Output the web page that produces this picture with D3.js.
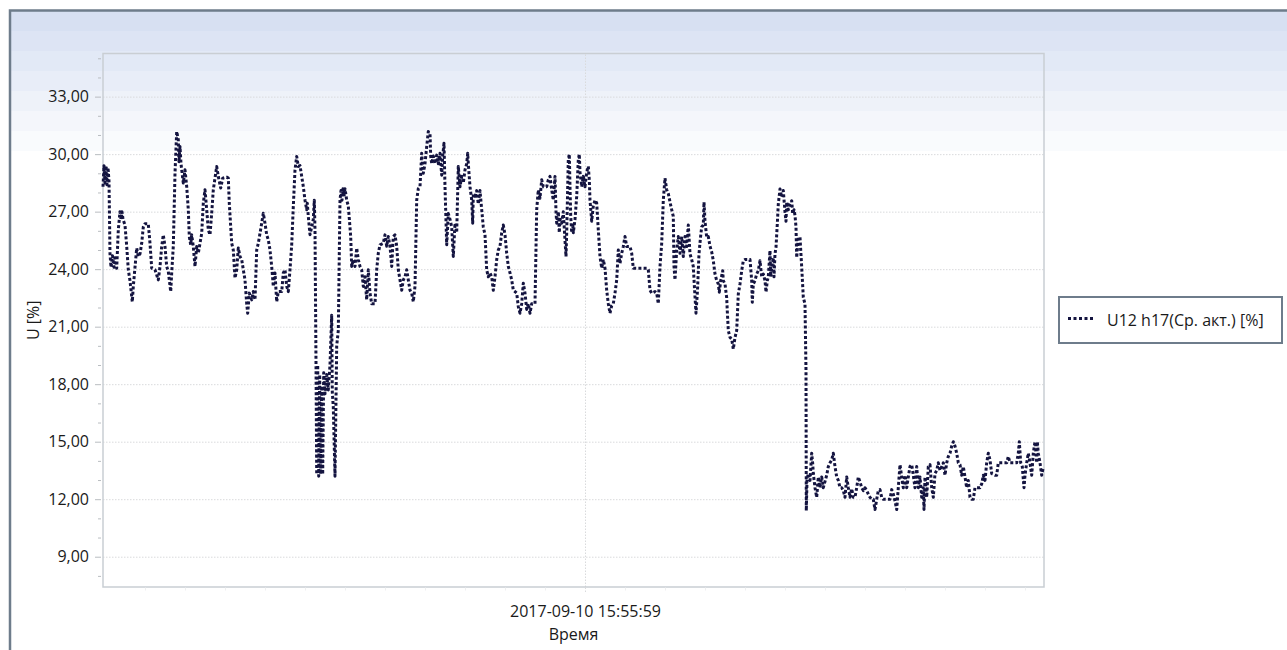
<!DOCTYPE html>
<html>
<head>
<meta charset="utf-8">
<script src="https://cdn.jsdelivr.net/npm/d3@7"></script>
<style>
  html, body { margin: 0; padding: 0; background: #ffffff; }
  svg { display: block; font-family: "Open Sans", "Noto Sans", sans-serif; }
</style>
</head>
<body>
<svg id="chart" width="1287" height="650"></svg>
<script>
// ---- chart data ----
const seriesName = "U12 h17(Ср. акт.) [%]";
const yTitle = "U [%]";
const xTitle = "Время";
const startTime = "2017-09-10 07:53:59";   // first sample
const spanMinutes = 941;                    // length of the time window
const labelTimes = ["2017-09-10 15:55:59"]; // labelled time tick
const yMajorTicks = [9, 12, 15, 18, 21, 24, 27, 30, 33];
const yMinorTicks = [8, 10, 11, 13, 14, 16, 17, 19, 20, 22, 23, 25, 26, 28, 29, 31, 32, 34, 35];
const yDomain = [7.42, 35.25];

// [minutes since start, U12 h17 %]
const readings = [
  [0,28.3],[1,29.4],[2,28.5],[3,29.4],[4,28.4],[5,29.3],[6,28.6],[7,24.8],[8,24.1],[9.5,24.7],
  [11,24.1],[12,24.6],[13.7,24.05],[15.3,26.05],[17,27.0],[18,26.6],[19,27.0],[20,26.6],[22,26.3],[23.7,25.2],
  [25.3,23.97],[27,23.4],[29.3,22.3],[30.3,23.1],[32,24.1],[33.7,25.1],[35.3,24.66],[37,24.8],[38.7,25.35],[40.3,26.2],
  [42,26.37],[45.3,26.37],[47,25.35],[48.7,24.05],[52,23.97],[55.3,23.44],[57,24.14],[58.7,25.18],[60.3,25.79],[62,25.18],
  [63.7,24.14],[65.3,23.88],[67.7,22.83],[68.7,23.8],[70.3,25.2],[72,29.0],[73.7,31.18],[75.3,30.75],[76,29.6],[77,30.4],
  [78,29.5],[80.3,28.49],[82,29.18],[83.7,28.31],[85.3,27.1],[86.3,25.7],[87.7,25.27],[88.7,25.79],[90.3,25.18],[92,24.14],
  [93.7,25.18],[95.3,24.83],[97,25.35],[98.7,25.87],[100.3,27.44],[102,28.14],[103.7,27.1],[105.3,26.05],[107,25.79],[108.7,26.92],
  [110.3,28.14],[113.7,29.36],[115.3,28.84],[117.7,28.23],[119.7,28.75],[123.7,28.8],[125.3,28.75],[126.3,27.44],[128.7,25.35],[130.3,25.0],
  [132,23.53],[133.7,23.97],[135.3,25.1],[137,24.66],[138.7,24.5],[140.3,23.97],[142,23.44],[143.7,22.2],[144.7,21.7],[146.3,22.75],
  [148.7,22.4],[150.3,22.83],[152,22.4],[153.7,25.0],[155.3,25.35],[157,25.87],[158.7,26.4],[160.3,26.92],[162,26.4],[163.7,25.79],
  [165.3,25.53],[167,25.0],[168.7,24.14],[170.3,23.1],[172,23.8],[173.7,22.3],[175.3,22.83],[178.7,22.83],[180.3,23.8],[182,23.97],
  [183.7,23.1],[185.3,22.83],[187,23.97],[188.7,25.27],[190.3,27.27],[192,29.18],[193.7,29.88],[195.3,29.36],[197,29.4],[198.7,28.84],
  [200.3,28.31],[202,27.6],[203.7,27.1],[204.3,27.44],[205.3,26.75],[207,25.8],[208.7,26.2],[210.3,26.6],[211.3,27.6],[212,26.05],
  [213,19.1],[213.7,13.3],[214.7,19.0],[215.7,13.2],[216.7,18.5],[217.7,13.3],[218.7,17.9],[219.7,13.3],[220.7,18.6],[222,17.5],
  [223.7,18.5],[225.3,17.7],[227,19.0],[228.7,21.6],[229.3,17.6],[230.3,16.8],[232,13.2],[233.7,20.0],[235.3,20.8],[237,27.6],
  [238,28.1],[239,27.6],[240,28.2],[241,27.8],[242,28.2],[243.7,27.6],[245.3,27.3],[247.7,25.7],[248.7,24.14],[250.3,24.5],
  [252,24.14],[253.7,25.1],[255.3,24.5],[257,24.14],[258.7,23.97],[260.3,23.1],[262,23.6],[263.7,22.4],[265.3,23.97],[267,22.75],
  [268.7,22.2],[272,22.2],[273.7,23.97],[275.3,24.83],[277,25.27],[280.3,25.35],[282,25.79],[283.7,25.2],[285.3,25.7],[287,25.2],
  [288.7,24.14],[290.3,25.7],[292,25.79],[293.7,25.2],[295.3,23.97],[297,23.44],[298.7,22.9],[300.3,23.44],[302,23.6],[303.7,23.97],
  [305.3,23.44],[307,22.9],[308.7,22.75],[310.3,22.3],[312,23.1],[313.7,27.6],[315.3,28.2],[317,28.3],[318.7,30.05],[320.3,29.0],
  [322,29.5],[323.7,30.4],[325.3,31.18],[327,31.1],[327.7,29.9],[328.7,29.5],[330.3,29.9],[332,29.5],[333.7,29.95],[335.3,29.5],
  [337,30.05],[338.7,28.9],[339.7,29.9],[341,30.57],[342,28.3],[343.7,25.27],[345.3,26.9],[347,26.6],[348.7,26.2],[350.3,24.66],
  [352,26.4],[353.7,25.9],[355.3,29.36],[357,28.3],[358.7,28.84],[360.3,28.5],[362,29.18],[363.7,29.5],[364.7,30.05],[365.3,29.5],
  [367,28.3],[368.7,27.6],[369.7,26.4],[370.3,27.9],[372,27.8],[373.7,28.1],[375.3,27.4],[377,28.1],[378.7,27.1],[380.3,26.2],
  [382,25.8],[383.7,23.97],[385.3,23.6],[387,23.8],[388.7,23.6],[390.3,22.9],[392,23.6],[393.7,24.5],[395.3,25.0],[397,25.18],
  [398.7,25.9],[400.3,26.3],[402,25.8],[403.7,24.83],[405.3,24.14],[407,23.8],[408.7,23.44],[410.3,22.9],[412,22.83],[413.7,22.75],
  [415.3,22.05],[417,21.7],[418.7,22.2],[420.3,23.27],[422,22.75],[423.7,21.9],[425.3,22.2],[427,21.7],[428.7,22.2],[432,22.2],
  [433.7,27.1],[435.3,28.14],[437,27.7],[438.7,28.66],[440.3,28.3],[443.7,28.3],[445.3,28.66],[447,28.84],[448.7,28.14],[450.3,27.6],
  [452,28.84],[453,27.0],[453.7,26.4],[455.3,27.0],[456.3,25.9],[457,26.6],[458.7,26.4],[460.3,27.0],[462,25.5],[463,24.66],
  [463.7,25.9],[465.3,29.7],[466.3,30.0],[467,28.3],[467.7,26.8],[468.7,25.9],[469.7,26.4],[470.3,25.9],[472,26.6],[473.7,27.8],
  [475.3,29.7],[476.3,30.0],[477,29.05],[478.7,28.3],[480.3,28.84],[482,28.3],[483.7,29.05],[485.3,29.36],[486.3,28.66],[487,27.6],
  [488.7,26.5],[490.3,27.3],[492,27.6],[493.7,27.45],[495.3,26.05],[497,24.66],[498.7,24.05],[500.3,24.5],[502,24.05],[503.7,22.9],
  [505.3,22.2],[507,21.7],[508.7,22.1],[510.3,22.2],[512,22.75],[513.7,23.44],[515.3,25.0],[517,24.3],[518.7,24.83],[520.3,25.18],
  [522,25.7],[523.7,25.18],[527,25.18],[528.7,24.83],[530.3,24.05],[543.7,24.05],[545.3,23.97],[547,22.9],[548.7,22.75],[552,22.83],
  [553.7,22.75],[555.3,22.2],[557,24.14],[558.7,25.35],[560.3,27.6],[562,28.75],[563.7,28.14],[565.3,27.95],[567,27.5],[568.7,27.1],
  [570.3,26.75],[571,24.14],[572,23.44],[573.7,25.0],[575.3,25.7],[577,24.83],[578.7,25.7],[580.3,24.66],[582,25.7],[583.7,25.18],
  [585.3,26.3],[587,24.8],[588.7,24.5],[590.3,24.14],[591.5,23.0],[593,21.7],[594.5,22.9],[596,24.8],[597.5,25.66],[598.7,26.2],
  [600.3,26.3],[601,27.5],[602,26.5],[603.7,25.66],[605.3,25.7],[607,25.2],[608.7,24.9],[610.3,24.44],[612,23.75],[613.7,23.4],
  [615.3,23.23],[616.3,22.8],[617.7,23.4],[619.7,23.92],[620.3,23.4],[622,23.23],[623.7,22.5],[624.3,21.8],[625.3,20.8],[627,20.44],
  [628.7,20.35],[630.3,19.83],[632,20.44],[633.7,20.8],[635.3,22.7],[637,23.23],[638.7,23.92],[640.3,24.44],[642,24.5],[647,24.5],
  [648.7,23.4],[649.3,22.27],[650.3,23.23],[652,23.4],[653.7,23.75],[655.3,23.92],[657,24.44],[658.7,23.6],[660.3,23.75],[662,23.4],
  [663,22.8],[664.3,23.4],[665.3,23.6],[667,24.97],[667.7,23.6],[668.7,24.1],[670.3,24.6],[671,23.6],[672,24.8],[673,25.14],
  [674.3,26.36],[675.3,27.4],[677,28.18],[678.7,27.75],[680.3,28.1],[682,26.97],[683,26.5],[683.7,27.5],[685.3,27.1],[687,27.4],
  [688.7,27.57],[689.7,26.9],[691,27.1],[692,26.8],[693,26.2],[693.7,24.6],[695.3,25.66],[697,25.66],[698.7,24.1],[700.3,22.53],
  [702,22.18],[703,18.7],[703.3,11.4],[704,12.98],[705.3,13.34],[707,12.98],[708.7,14.4],[709.7,13.86],[710.3,13.34],[712,12.6],
  [713.7,12.1],[715.3,13.16],[717,12.6],[718.7,13.16],[720.3,12.6],[723.7,13.25],[725.3,13.7],[727,13.9],[728.7,14.05],[730.3,14.4],
  [732,13.7],[733.7,13.16],[735.3,12.98],[737,12.6],[738.7,12.6],[740.3,12.45],[742,12.1],[743.7,13.16],[745.3,12.6],[747,12.1],
  [748.7,12.55],[750.3,12.1],[752,12.1],[753.7,12.6],[755.3,13.16],[757,12.9],[758.7,12.6],[760.3,12.45],[762,12.6],[763.7,12.45],
  [765.3,12.27],[767,12.1],[768.7,12.0],[770.3,12.0],[772,11.46],[773.7,12.0],[775.3,12.45],[777,12.5],[778.7,12.1],[780.3,12.0],
  [787,12.0],[788.7,12.5],[790.3,12.27],[792,11.9],[793.7,11.46],[795.3,12.6],[797,13.8],[798.7,13.16],[800.3,12.6],[802,13.25],
  [803.7,12.6],[805.3,13.16],[807,13.7],[808.7,13.8],[810.3,13.25],[812,12.6],[813.7,13.7],[815.3,12.6],[817,13.16],[818.7,12.1],
  [820.3,12.6],[821,11.46],[822,13.16],[823.7,12.1],[825.3,13.7],[827,13.8],[828.7,12.6],[830.3,12.1],[832,13.34],[833.7,13.5],
  [835.3,13.9],[837,13.5],[838.7,13.7],[840.3,13.9],[842,13.25],[843.7,13.9],[845.3,14.23],[847,14.4],[848.7,14.77],[850.3,15.0],
  [852,14.77],[853.7,14.4],[855.3,13.9],[857,13.8],[858.7,13.25],[860.3,13.7],[862,13.16],[863.7,12.6],[865.3,12.98],[867,12.1],
  [868.7,12.0],[870.3,12.0],[872,12.6],[877,12.6],[878.7,12.8],[880.3,13.25],[882,12.98],[883.7,13.9],[885.3,14.4],[887,14.05],
  [888.7,13.34],[892,13.25],[893.7,13.25],[895.3,13.9],[903.7,13.9],[905.3,14.23],[907,13.9],[913.7,13.9],[915.3,14.4],[916.3,15.0],
  [917.7,13.9],[919.3,13.7],[921,12.6],[922,13.25],[923.7,13.9],[925.3,14.4],[927,13.9],[928.7,13.25],[930.3,14.4],[932,15.0],
  [933.7,13.9],[934.3,15.0],[935.3,14.4],[937,13.9],[938.7,13.25],[940,13.6]
];

// ---- layout ----
const W = 1287, H = 650;
const plot = { left: 103, right: 1044, top: 53.5, bottom: 587 };
const parseTime = d3.timeParse("%Y-%m-%d %H:%M:%S");
const formatTime = d3.timeFormat("%Y-%m-%d %H:%M:%S");
const commaLocale = d3.formatLocale({ decimal: ",", thousands: " ", grouping: [3], currency: ["", ""] });
const fmtValue = commaLocale.format(".2f");

const t0 = parseTime(startTime);
const t1 = d3.timeMinute.offset(t0, spanMinutes);
const points = readings.map(([m, v]) => ({ t: new Date(t0.getTime() + m * 60000), v }));
const labelDates = labelTimes.map(parseTime);

const x = d3.scaleTime().domain([t0, t1]).range([plot.left, plot.right]);
const y = d3.scaleLinear().domain(yDomain).range([plot.bottom, plot.top]);

const svg = d3.select("#chart");

// banded light-blue wash behind the whole chart
const bandTop = 11, bandH = 20, bandCount = 8;
const bandColor = d3.interpolateRgb("#d7e0f2", "#ffffff");
svg.append("g").selectAll("rect")
  .data(d3.range(bandCount))
  .join("rect")
  .attr("x", 10).attr("y", i => bandTop + i * bandH)
  .attr("width", W - 10).attr("height", bandH + 0.5)
  .attr("fill", i => bandColor(i / (bandCount - 1)));

// outer frame (top and left edges)
svg.append("path")
  .attr("d", `M10,${H} L10,10.5 L${W},10.5`)
  .attr("fill", "none").attr("stroke", "#6e7c8b").attr("stroke-width", 2.5);

// horizontal grid
svg.append("g")
  .attr("transform", `translate(${plot.left},0)`)
  .call(d3.axisLeft(y).tickValues(yMajorTicks).tickSize(-(plot.right - plot.left)).tickFormat(""))
  .call(g => g.select(".domain").remove())
  .call(g => g.selectAll("line").attr("stroke", "#d9dadc").attr("stroke-dasharray", "1.5,1.5"));

// vertical grid at the labelled time
svg.append("g")
  .attr("transform", `translate(0,${plot.bottom})`)
  .call(d3.axisBottom(x).tickValues(labelDates).tickSize(-(plot.bottom - plot.top)).tickFormat(""))
  .call(g => g.select(".domain").remove())
  .call(g => g.selectAll("line").attr("stroke", "#d9dadc").attr("stroke-dasharray", "1.5,1.5"));

// plot frame
svg.append("rect")
  .attr("x", plot.left).attr("y", plot.top)
  .attr("width", plot.right - plot.left).attr("height", plot.bottom - plot.top)
  .attr("fill", "none").attr("stroke", "#c9ced3").attr("stroke-width", 1.5);

// y axis: minor ticks, then major ticks with labels
svg.append("g")
  .attr("transform", `translate(101,0)`)
  .call(d3.axisLeft(y).tickValues(yMinorTicks).tickSize(3).tickFormat(""))
  .call(g => g.select(".domain").remove())
  .call(g => g.selectAll("line").attr("stroke", "#b9bdc1"));

svg.append("g")
  .attr("transform", `translate(101,0)`)
  .call(d3.axisLeft(y).tickValues(yMajorTicks).tickSize(6).tickPadding(6).tickFormat(fmtValue))
  .call(g => g.select(".domain").remove())
  .call(g => g.selectAll("line").attr("stroke", "#b9bdc1"))
  .call(g => g.selectAll("text").attr("fill", "#1a1a1a").attr("font-size", 16)
    .attr("font-family", "\"Open Sans\", \"Noto Sans\", sans-serif"));

// x axis: faint minor ticks every 40 minutes around the labelled time
const minorX = d3.range(-12, 13)
  .map(k => d3.timeMinute.offset(labelDates[0], 40 * k))
  .filter(d => d > d3.timeMinute.offset(t0, 10) && d < t1 && d.getTime() !== labelDates[0].getTime());
svg.append("g")
  .attr("transform", `translate(0,${plot.bottom + 0.5})`)
  .call(d3.axisBottom(x).tickValues(minorX).tickSize(3).tickFormat(""))
  .call(g => g.select(".domain").remove())
  .call(g => g.selectAll("line").attr("stroke", "#eeeff0"));

svg.append("g")
  .attr("transform", `translate(0,${plot.bottom + 0.5})`)
  .call(d3.axisBottom(x).tickValues(labelDates).tickSize(6).tickPadding(12).tickFormat(formatTime))
  .call(g => g.select(".domain").remove())
  .call(g => g.selectAll("line").attr("stroke", "#d9dadc").attr("stroke-dasharray", "1.5,1.5"))
  .call(g => g.selectAll("text").attr("fill", "#1a1a1a").attr("font-size", 16)
    .attr("font-family", "\"Open Sans\", \"Noto Sans\", sans-serif"));

// axis titles
svg.append("text")
  .attr("x", (plot.left + plot.right) / 2).attr("y", 640)
  .attr("text-anchor", "middle").attr("font-size", 16).attr("fill", "#1a1a1a")
  .text(xTitle);

svg.append("text")
  .attr("transform", `translate(39,${(plot.top + plot.bottom) / 2}) rotate(-90)`)
  .attr("text-anchor", "middle").attr("font-size", 16).attr("fill", "#1a1a1a")
  .text(yTitle);

// the series
const line = d3.line().x(d => x(d.t)).y(d => y(d.v));
svg.append("path")
  .datum(points)
  .attr("d", line)
  .attr("fill", "none")
  .attr("stroke", "#141440")
  .attr("stroke-width", 3)
  .attr("stroke-dasharray", "3,2.2")
  .attr("stroke-linejoin", "round");

// legend
const legend = svg.append("g").attr("transform", "translate(1059,297)");
legend.append("rect")
  .attr("width", 223).attr("height", 46)
  .attr("fill", "#ffffff").attr("stroke", "#6e7c8b").attr("stroke-width", 2);
legend.append("line")
  .attr("x1", 9).attr("x2", 35).attr("y1", 21.5).attr("y2", 21.5)
  .attr("stroke", "#141440").attr("stroke-width", 3).attr("stroke-dasharray", "3,2.5");
legend.append("text")
  .attr("x", 48).attr("y", 29).attr("font-size", 16).attr("fill", "#1a1a1a")
  .text(seriesName);
</script>
</body>
</html>
